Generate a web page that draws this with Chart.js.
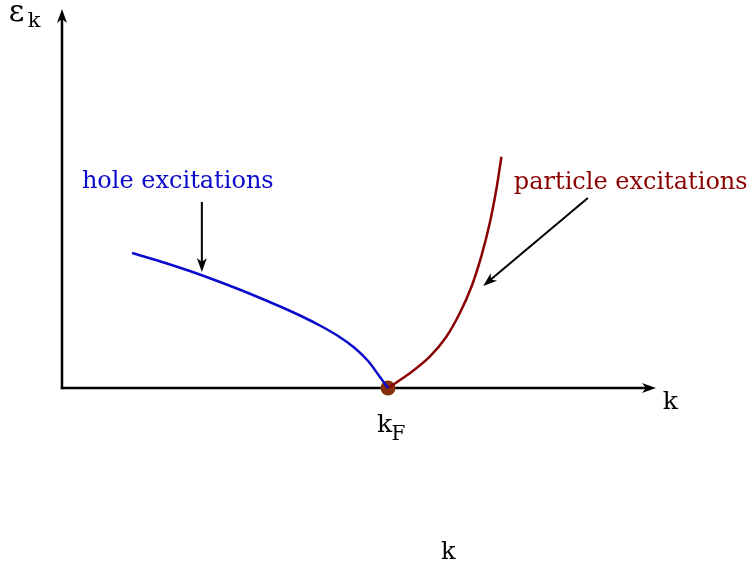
<!DOCTYPE html>
<html>
<head>
<meta charset="utf-8">
<script src="https://cdn.jsdelivr.net/npm/chart.js@4.4.1/dist/chart.umd.min.js"></script>
<style>
html, body { margin: 0; padding: 0; background: #fff; }
#wrap { width: 752px; height: 568px; }
</style>
</head>
<body>
<div id="wrap"><canvas id="chart" width="752" height="568"></canvas></div>
<script>
// momentum in units of k_F, energy in arbitrary units
var holeK = [0.215, 0.322, 0.433, 0.552, 0.669, 0.730, 0.791, 0.847, 0.896, 0.939, 0.972, 1.0];
var holeE = [1.35, 1.245, 1.123, 0.975, 0.815, 0.725, 0.625, 0.52, 0.405, 0.27, 0.125, 0];
var partK = [1.0, 1.067, 1.128, 1.179, 1.220, 1.256, 1.286, 1.312, 1.332, 1.348];
var partE = [0, 0.147, 0.313, 0.513, 0.747, 1.013, 1.313, 1.647, 1.98, 2.313];
var fermiK = [1.0];
var fermiE = [0];

// axis extents (arrow tips)
var axisKEnd = 1.822;
var axisEEnd = 3.79;

// annotation arrows: [fromK, fromE, toK, toE]
var holeArrow = [0.429, 1.86, 0.429, 1.16];
var partArrow = [1.613, 1.90, 1.292, 1.02];

var BLUE = '#0a0acc';
var RED = '#8b0000';
var SERIF = '"DejaVu Serif", "Liberation Serif", serif';

function pts(xs, ys) {
    var out = [];
    for (var i = 0; i < xs.length; i++) out.push({x: xs[i], y: ys[i]});
    return out;
}

function arrowHead(ctx, x1, y1, x2, y2, len, half) {
    var a = Math.atan2(y2 - y1, x2 - x1);
    ctx.save();
    ctx.translate(x2, y2);
    ctx.rotate(a);
    ctx.beginPath();
    ctx.moveTo(0, 0);
    ctx.lineTo(-len, -half);
    ctx.lineTo(-len * 0.72, 0);
    ctx.lineTo(-len, half);
    ctx.closePath();
    ctx.fill();
    ctx.restore();
}

function arrow(ctx, x1, y1, x2, y2, width, len, half) {
    var a = Math.atan2(y2 - y1, x2 - x1);
    ctx.lineWidth = width;
    ctx.beginPath();
    ctx.moveTo(x1, y1);
    ctx.lineTo(x2 - Math.cos(a) * len * 0.6, y2 - Math.sin(a) * len * 0.6);
    ctx.stroke();
    arrowHead(ctx, x1, y1, x2, y2, len, half);
}

var sketch = {
    id: 'sketch',
    beforeDatasetsDraw: function(chart) {
        var ctx = chart.ctx, xs = chart.scales.x, ys = chart.scales.y;
        var ox = xs.getPixelForValue(0), oy = ys.getPixelForValue(0);
        ctx.save();
        ctx.strokeStyle = '#000';
        ctx.fillStyle = '#000';
        ctx.lineCap = 'square';
        arrow(ctx, ox, oy, xs.getPixelForValue(axisKEnd), oy, 2.5, 14, 5);
        arrow(ctx, ox, oy, ox, ys.getPixelForValue(axisEEnd), 2.5, 14, 5);
        ctx.restore();
    },
    afterDatasetsDraw: function(chart) {
        var ctx = chart.ctx, xs = chart.scales.x, ys = chart.scales.y;
        function px(k) { return xs.getPixelForValue(k); }
        function py(e) { return ys.getPixelForValue(e); }
        ctx.save();
        ctx.strokeStyle = '#000';
        ctx.fillStyle = '#000';
        arrow(ctx, px(holeArrow[0]), py(holeArrow[1]), px(holeArrow[2]), py(holeArrow[3]), 2, 14, 5);
        arrow(ctx, px(partArrow[0]), py(partArrow[1]), px(partArrow[2]), py(partArrow[3]), 2, 14, 5);

        ctx.textBaseline = 'alphabetic';
        ctx.textAlign = 'left';
        ctx.font = '24px ' + SERIF;
        ctx.fillStyle = BLUE;
        ctx.fillText('hole excitations', px(0.061), py(2.0));
        ctx.fillStyle = RED;
        ctx.fillText('particle excitations', px(1.386), py(1.99));

        ctx.fillStyle = '#000';
        // energy axis label
        ctx.font = '30px ' + SERIF;
        ctx.fillText('ε', px(-0.163), py(3.67));
        ctx.font = '21px ' + SERIF;
        ctx.fillText('k', px(-0.105), py(3.61));
        // momentum axis label
        ctx.font = '25px ' + SERIF;
        ctx.fillText('k', px(1.843), py(-0.205));
        // Fermi momentum
        ctx.fillText('k', px(0.966), py(-0.44));
        ctx.font = '20px ' + SERIF;
        ctx.fillText('F', px(1.011), py(-0.52));
        // x title
        ctx.textAlign = 'center';
        ctx.font = '24px ' + SERIF;
        ctx.fillText('k', px(1.185), py(-1.71));
        ctx.restore();
    }
};

new Chart(document.getElementById('chart'), {
    type: 'scatter',
    data: {
        datasets: [
            {
                label: 'hole excitations',
                data: pts(holeK, holeE),
                showLine: true,
                borderColor: BLUE,
                borderWidth: 2.5,
                pointRadius: 0,
                tension: 0.3,
                order: 1
            },
            {
                label: 'particle excitations',
                data: pts(partK, partE),
                showLine: true,
                borderColor: RED,
                borderWidth: 2.5,
                pointRadius: 0,
                tension: 0.3,
                order: 1
            },
            {
                label: 'k_F',
                data: pts(fermiK, fermiE),
                pointRadius: 7.5,
                pointBackgroundColor: '#82310a',
                pointBorderWidth: 0,
                order: 3
            }
        ]
    },
    options: {
        responsive: false,
        animation: false,
        layout: {padding: 0, autoPadding: false},
        clip: false,
        plugins: {legend: {display: false}, tooltip: {enabled: false}},
        scales: {
            x: {type: 'linear', display: false, min: -0.19018, max: 2.11656},
            y: {type: 'linear', display: false, min: -1.80, max: 3.88}
        }
    },
    plugins: [sketch]
});
</script>
</body>
</html>
